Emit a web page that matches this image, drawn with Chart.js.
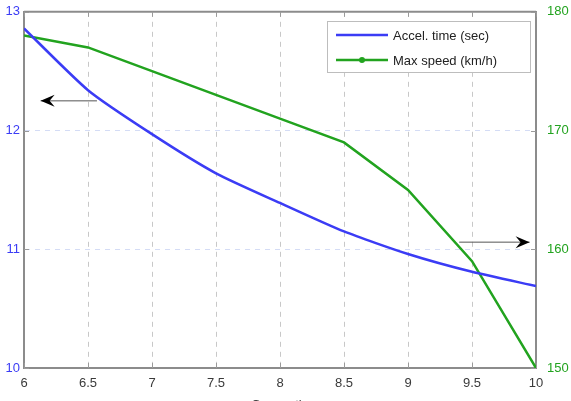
<!DOCTYPE html>
<html>
<head>
<meta charset="utf-8">
<script src="https://cdn.jsdelivr.net/npm/chart.js@4.4.0/dist/chart.umd.min.js"></script>
<style>
  html, body { margin: 0; padding: 0; background: #fff; }
  #wrap { width: 571px; height: 401px; overflow: hidden; }
</style>
</head>
<body>
<div id="wrap"><canvas id="myChart" width="571" height="401"></canvas></div>
<script>
const gearRatio = [6, 6.5, 7, 7.5, 8, 8.5, 9, 9.5, 10];
const accelTime = [12.86, 12.34, 11.97, 11.64, 11.39, 11.15, 10.96, 10.81, 10.69];
const maxSpeed = [178, 177, 175, 173, 171, 169, 165, 159, 150];
const leftTicks = [10, 11, 12, 13];
const rightTicks = [150, 160, 170, 180];

const blue = '#3b3cf5';
const green = '#22a31f';
const font = "'Liberation Sans', Arial, sans-serif";

const annotations = {
  id: 'annotations',
  afterDraw(chart) {
    const c = chart.ctx;
    const x = chart.scales.x, yl = chart.scales.y, yr = chart.scales.y2;
    const a = chart.chartArea;
    c.save();
    // top border
    c.strokeStyle = '#8c8c8c';
    c.lineWidth = 2;
    c.beginPath();
    c.moveTo(a.left, a.top);
    c.lineTo(a.right, a.top);
    c.stroke();

    // small inner tick marks
    c.lineWidth = 1;
    c.strokeStyle = '#9a9a9a';
    c.beginPath();
    x.ticks.forEach(t => {
      const px = Math.round(x.getPixelForValue(t.value)) + 0.5;
      c.moveTo(px, a.bottom); c.lineTo(px, a.bottom - 5);
      c.moveTo(px, a.top); c.lineTo(px, a.top + 5);
    });
    yl.ticks.forEach(t => {
      const py = Math.round(yl.getPixelForValue(t.value)) + 0.5;
      c.moveTo(a.left, py); c.lineTo(a.left + 5, py);
      c.moveTo(a.right, py); c.lineTo(a.right - 5, py);
    });
    c.stroke();

    function arrow(x1, x2, y) {
      c.strokeStyle = '#555';
      c.lineWidth = 1;
      c.beginPath();
      c.moveTo(x1, y);
      c.lineTo(x2, y);
      c.stroke();
      const d = x2 > x1 ? 1 : -1;
      c.fillStyle = '#000';
      c.beginPath();
      c.moveTo(x2, y);
      c.lineTo(x2 - d * 14, y - 6);
      c.lineTo(x2 - d * 9, y);
      c.lineTo(x2 - d * 14, y + 6);
      c.closePath();
      c.fill();
    }
    arrow(x.getPixelForValue(6.57), x.getPixelForValue(6.13), yl.getPixelForValue(12.25));
    arrow(x.getPixelForValue(9.4), x.getPixelForValue(9.95), yr.getPixelForValue(160.6));

    // legend
    const lx = 327, ly = 21, lw = 203, lh = 51;
    c.fillStyle = '#fff';
    c.fillRect(lx, ly, lw, lh);
    c.strokeStyle = '#bdbdbd';
    c.lineWidth = 1;
    c.strokeRect(lx + 0.5, ly + 0.5, lw, lh);
    c.font = '13px ' + font;
    c.textBaseline = 'middle';
    chart.data.datasets.forEach((ds, i) => {
      const yy = ly + 14 + i * 25;
      c.strokeStyle = ds.borderColor;
      c.lineWidth = 2.5;
      c.beginPath();
      c.moveTo(lx + 9, yy);
      c.lineTo(lx + 61, yy);
      c.stroke();
      if (i === 1) {
        c.fillStyle = ds.borderColor;
        c.beginPath();
        c.arc(lx + 35, yy, 3, 0, Math.PI * 2);
        c.fill();
      }
      c.fillStyle = '#222';
      c.fillText(ds.label, lx + 66, yy + 1);
    });
    c.restore();
  }
};

new Chart(document.getElementById('myChart'), {
  type: 'line',
  data: {
    datasets: [{
      label: 'Accel. time (sec)',
      data: gearRatio.map((g, i) => ({ x: g, y: accelTime[i] })),
      borderColor: blue,
      borderWidth: 2.5,
      pointRadius: 0,
      tension: 0.2,
      yAxisID: 'y'
    }, {
      label: 'Max speed (km/h)',
      data: gearRatio.map((g, i) => ({ x: g, y: maxSpeed[i] })),
      borderColor: green,
      borderWidth: 2.5,
      pointRadius: 0,
      tension: 0,
      yAxisID: 'y2'
    }]
  },
  plugins: [annotations],
  options: {
    responsive: false,
    animation: false,
    layout: { padding: { top: 11, right: 0, left: 0, bottom: 0 } },
    plugins: {
      legend: { display: false },
      tooltip: { enabled: false }
    },
    scales: {
      x: {
        type: 'linear',
        min: 6,
        max: 10,
        afterBuildTicks(s) { s.ticks = gearRatio.map(v => ({ value: v })); },
        afterFit(s) { s.height = 33; },
        border: { display: true, color: '#8c8c8c', width: 2, dash: [5, 5] },
        grid: { color: '#c8c8c8', lineWidth: 1, drawTicks: false },
        ticks: {
          color: '#3a3a3a', font: { size: 13, family: font }, padding: 8, maxRotation: 0,
          callback: v => String(v)
        },
        title: { display: true, text: 'Gear ratio', color: '#3a3a3a', font: { size: 13, family: font }, padding: { top: 0, bottom: -12 } }
      },
      y: {
        position: 'left',
        min: 10,
        max: 13,
        afterBuildTicks(s) { s.ticks = leftTicks.map(v => ({ value: v })); },
        afterFit(s) { s.width = 24; },
        border: { display: true, color: '#8c8c8c', width: 2, dash: [5, 5] },
        grid: { color: '#d4dcf5', lineWidth: 1, drawTicks: false },
        ticks: { color: blue, font: { size: 13, family: font }, padding: 4 }
      },
      y2: {
        position: 'right',
        min: 150,
        max: 180,
        afterBuildTicks(s) { s.ticks = rightTicks.map(v => ({ value: v })); },
        afterFit(s) { s.width = 35; },
        border: { display: true, color: '#8c8c8c', width: 2 },
        grid: { display: false },
        ticks: { color: green, font: { size: 13, family: font }, padding: 3 }
      }
    }
  }
});
</script>
</body>
</html>
